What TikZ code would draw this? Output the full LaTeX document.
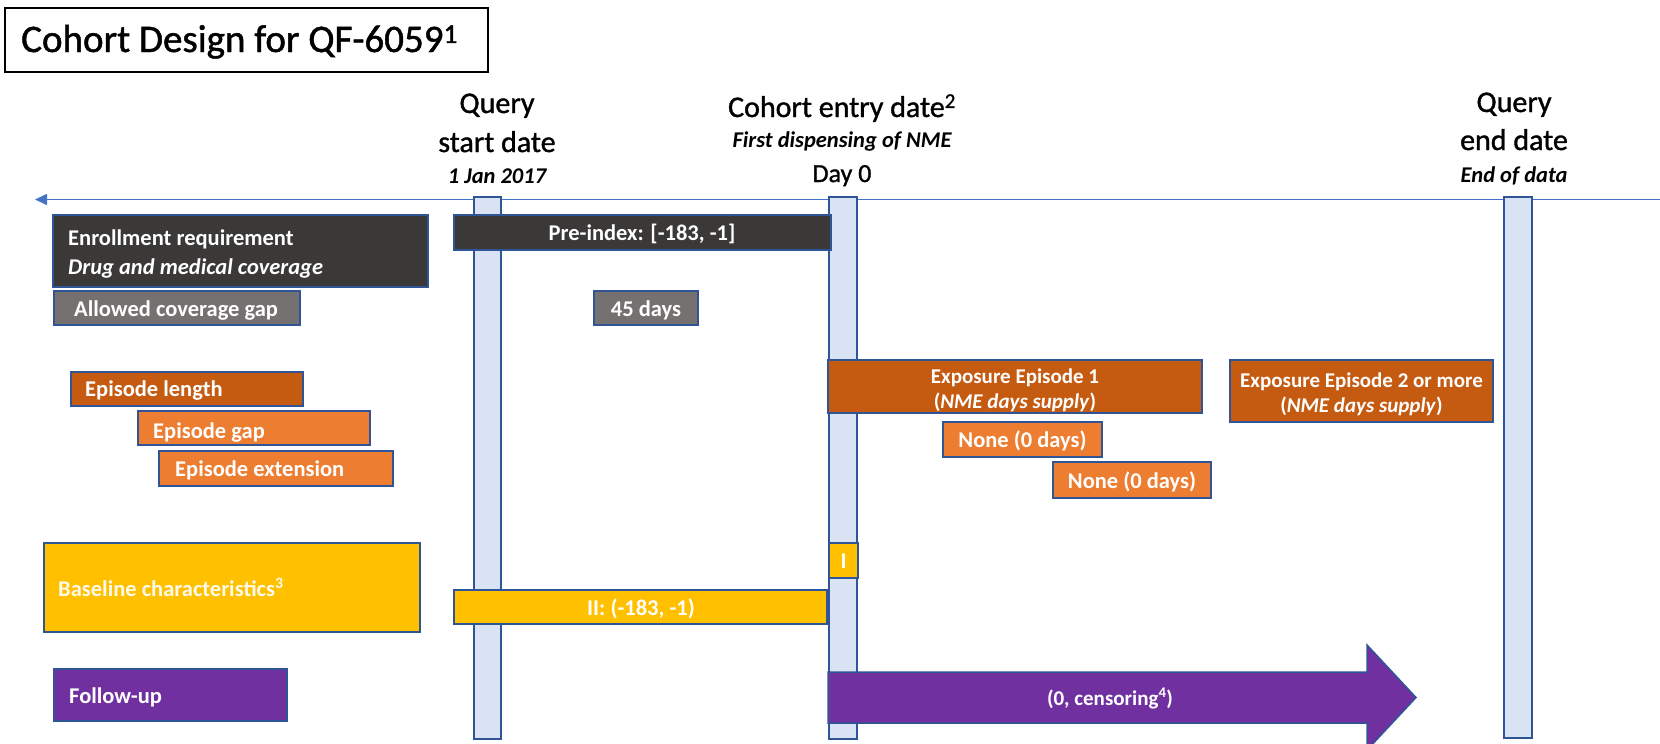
\documentclass[tikz,border=0pt]{standalone}
\usepackage{fontspec}
\setmainfont{Carlito}
\newfontfamily\heavyfont[FakeBold=1.2]{Carlito}
\usetikzlibrary{fit,arrows.meta}
\definecolor{bordblue}{HTML}{2F5597}
\definecolor{barfill}{HTML}{DAE3F3}
\definecolor{lineblue}{HTML}{4472C4}
\definecolor{darkbox}{HTML}{3B3838}
\definecolor{graybox}{HTML}{767171}
\definecolor{orangedark}{HTML}{C55A11}
\definecolor{orangelight}{HTML}{ED7D31}
\definecolor{goldbox}{HTML}{FFC000}
\definecolor{purplebox}{HTML}{7030A0}
\begin{document}
\begin{tikzpicture}[x=1pt,y=-1pt,
  bar/.style={draw=bordblue, fill=barfill, line width=2pt, inner sep=0pt},
  box/.style={draw=bordblue, line width=1.5pt, inner sep=0pt},
  lbl/.style={text=white, inner sep=0pt, font=\fontsize{22.5}{27}\selectfont\bfseries},
  lblsm/.style={text=white, inner sep=0pt, font=\fontsize{21}{25}\selectfont\bfseries},
  hdr/.style={inner sep=0pt, font=\heavyfont\fontsize{30}{36}\selectfont},
  hdrday/.style={inner sep=0pt, font=\heavyfont\fontsize{26}{31}\selectfont},
  hdrit/.style={inner sep=0pt, font=\fontsize{22.5}{27}\selectfont\bfseries\itshape},
  timeline/.style={draw=lineblue, line width=1.5pt, -{Triangle[length=12pt,width=11pt]}}
]
\useasboundingbox (0,0) rectangle (1660,744);

% title
\node[draw=black, line width=2.8pt, inner sep=0pt, fit={(5,8) (488,72)}] (title-box) {};
\node[anchor=base west, inner sep=0pt, font=\heavyfont\fontsize{39}{46}\selectfont] (title) at (21,52) {Cohort Design for QF-6059\textsuperscript{1}};

% timeline
\coordinate (tl-r) at (1660,199.5);
\coordinate (tl-l) at (35,199.5);
\draw[timeline] (tl-r) -- (tl-l);

% headers
\node[hdr, anchor=base] (qs-1) at (497,113) {Query};
\node[hdr, anchor=base] (qs-2) at (497,152) {start date};
\node[hdrit, anchor=base] (qs-3) at (497,183) {1 Jan 2017};
\node[hdr, anchor=base] (ce-1) at (842,117) {Cohort entry date\textsuperscript{2}};
\node[hdrit, anchor=base] (ce-2) at (842,147) {First dispensing of NME};
\node[hdrday, anchor=base] (ce-3) at (842,182) {Day 0};
\node[hdr, anchor=base] (qe-1) at (1514,112) {Query};
\node[hdr, anchor=base] (qe-2) at (1514,150) {end date};
\node[hdrit, anchor=base] (qe-3) at (1514,182) {End of data};

% vertical bars
\node[bar, fit={(473.5,197) (500.5,739)}] (qs-bar) {};
\node[bar, fit={(828.5,197) (856.5,739)}] (d0-bar) {};
\node[bar, fit={(1503.5,197) (1531.5,738)}] (qe-bar) {};

% enrollment
\node[box, fill=darkbox, fit={(53,215) (428,287)}] (enroll) {};
\node[lbl, anchor=base west] (enroll-1) at (68,245) {Enrollment requirement};
\node[lbl, anchor=base west] (enroll-2) at (68,274) {\itshape Drug and medical coverage};
\node[box, fill=darkbox, fit={(454,215) (831,250)}] (preidx) {};
\node[lbl, anchor=base] (preidx-t) at (642,240.5) {Pre-index: [-183, -1]};

% coverage gap
\node[box, fill=graybox, fit={(54,291) (300,325)}] (gap) {};
\node[lbl, anchor=base west] (gap-t) at (74,316) {Allowed coverage gap};
\node[box, fill=graybox, fit={(594,291) (698,325)}] (d45) {};
\node[lbl, anchor=base] (d45-t) at (646,316) {45 days};

% episodes
\node[box, fill=orangedark, fit={(71,372) (303,406)}] (eplen) {};
\node[lbl, anchor=base west] (eplen-t) at (85,396) {Episode length};
\node[box, fill=orangelight, fit={(138,411) (370,445)}] (epgap) {};
\node[lbl, anchor=base west] (epgap-t) at (153,438) {Episode gap};
\node[box, fill=orangelight, fit={(159,451) (393,486)}] (epext) {};
\node[lbl, anchor=base west] (epext-t) at (175,476) {Episode extension};

\node[box, fill=orangedark, fit={(828,360) (1202,413)}] (ep1) {};
\node[lblsm, anchor=base] (ep1-1) at (1015,383) {Exposure Episode 1};
\node[lblsm, anchor=base] (ep1-2) at (1015,408) {(\textit{NME days supply})};
\node[box, fill=orangedark, fit={(1230,360) (1493,422)}] (ep2) {};
\node[lblsm, anchor=base] (ep2-1) at (1361.5,387) {Exposure Episode 2 or more};
\node[lblsm, anchor=base] (ep2-2) at (1361.5,412) {(\textit{NME days supply})};

\node[box, fill=orangelight, fit={(943,422) (1102,457)}] (none1) {};
\node[lbl, anchor=base] (none1-t) at (1022.5,447) {None (0 days)};
\node[box, fill=orangelight, fit={(1053,462) (1211,498)}] (none2) {};
\node[lbl, anchor=base] (none2-t) at (1132,488) {None (0 days)};

% baseline
\node[box, fill=goldbox, fit={(44,543) (420,632)}] (base) {};
\node[lbl, anchor=base west, text=white!92!goldbox] (base-t) at (58,596) {Baseline characteristics\textsuperscript{3}};
\node[box, fill=goldbox, fit={(829,543) (858,578)}] (b1) {};
\node[lbl, anchor=base] (b1-t) at (843.5,568) {I};
\node[box, fill=goldbox, fit={(454,590) (827,624)}] (b2) {};
\node[lbl, anchor=base] (b2-t) at (641,615) {II: (-183, -1)};

% follow-up
\node[box, fill=purplebox, fit={(54,669) (287,721)}] (fu) {};
\node[lbl, anchor=base west] (fu-t) at (69,703) {Follow-up};
\draw[draw=bordblue, line width=1.5pt, fill=purplebox]
  (828,672) -- (1367,672) -- (1367,645) -- (1416,697.5) -- (1367,750) -- (1367,723) -- (828,723) -- cycle;
\node[lblsm, anchor=base] (fu-arrow-t) at (1110,705) {(0, censoring\textsuperscript{4})};
\end{tikzpicture}
\end{document}
